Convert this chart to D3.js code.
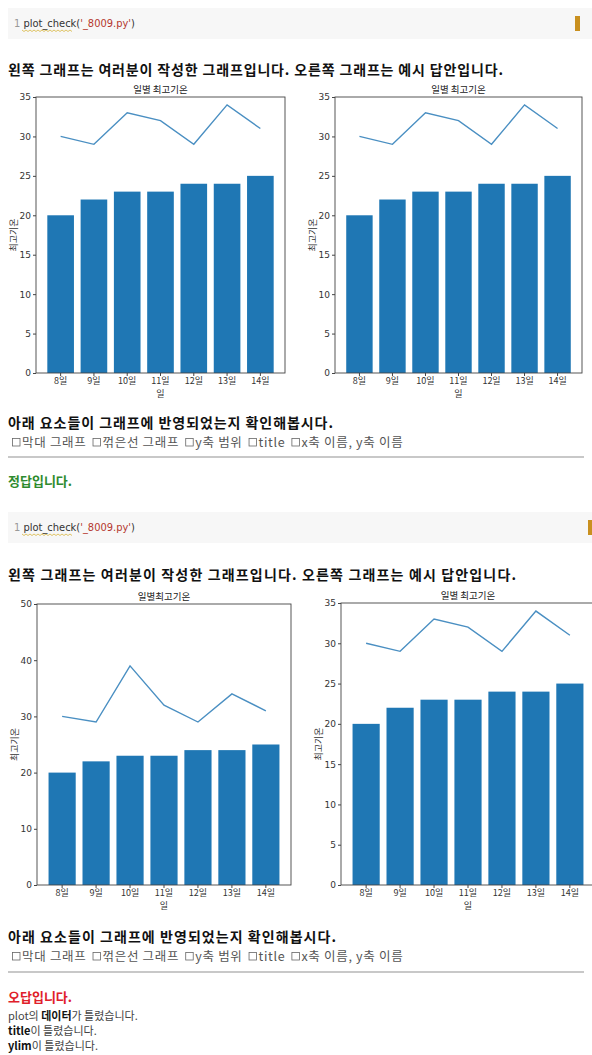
<!DOCTYPE html>
<html><head><meta charset="utf-8">
<script src="https://cdn.jsdelivr.net/npm/d3@7"></script>
<style>
html,body{margin:0;padding:0;background:#fff;}
svg{display:block;font-family:"Noto Sans CJK KR","Noto Sans",sans-serif;}
</style></head>
<body>
<svg id="root" width="592" height="1055"></svg>
<script>
// ---- data ----
const days = ["8일","9일","10일","11일","12일","13일","14일"];
const barTemps = [20,22,23,23,24,24,25];
const lineTempsAnswer = [30,29,33,32,29,34,31];
const lineTempsWrong = [30,29,39,32,29,34,31];
const yTicks35 = [0,5,10,15,20,25,30,35];
const yTicks50 = [0,10,20,30,40,50];
const checkItems = ["막대 그래프","꺾은선 그래프","y축 범위","title","x축 이름, y축 이름"];
const codeStr = "'_8009.py'";

const svg = d3.select("#root");
svg.append("rect").attr("width",592).attr("height",1055).attr("fill","#fff");

const BLUE = "#1f77b4";

function codeCell(y, barX){
  svg.append("rect").attr("x",8).attr("y",y).attr("width",584).attr("height",31).attr("fill","#f7f7f7");
  svg.append("rect").attr("x",barX).attr("y",y+8).attr("width",5).attr("height",15).attr("fill","#c9901f");
  const t = svg.append("text").attr("x",14).attr("y",y+19)
    .attr("font-family","'Liberation Sans Narrow','DejaVu Sans Condensed',sans-serif").attr("font-size",11);
  t.append("tspan").attr("fill","#999").text("1 ");
  t.append("tspan").attr("fill","#333").text("plot_check");
  t.append("tspan").attr("fill","#333").text("(");
  t.append("tspan").attr("fill","#b5382e").text(codeStr);
  t.append("tspan").attr("fill","#333").text(")");
  const x0 = 22, x1 = 72, yy = y+22;
  let d = `M${x0},${yy}`;
  for(let xx=x0, k=0; xx<x1; xx+=2, k++) d += ` L${xx+2},${yy + (k%2?0:1.5)}`;
  svg.append("path").attr("d",d).attr("fill","none").attr("stroke","#d8b640").attr("stroke-width",0.8);
}

function heading(y, txt, color, size, len){
  const t = svg.append("text").attr("x",8).attr("y",y).attr("font-size",size||14)
    .attr("font-weight","bold").attr("fill",color||"#111").text(txt);
  if(len) t.attr("textLength",len).attr("lengthAdjust","spacing");
}

function checkRow(y){
  let cx = 12;
  checkItems.forEach((s,i)=>{
    svg.append("rect").attr("x",cx+0.5).attr("y",y-8.5).attr("width",7.5).attr("height",7.5)
      .attr("fill","none").attr("stroke","#666").attr("stroke-width",0.8);
    const t = svg.append("text").attr("x",cx+10).attr("y",y).attr("font-size",12.5)
      .attr("letter-spacing",0.7).attr("fill","#555").text(s);
    const w = t.node().getBBox().width;
    cx = cx + 10 + w + 6;
  });
}

function hr(y){
  svg.append("line").attr("x1",8).attr("x2",584).attr("y1",y).attr("y2",y)
    .attr("stroke","#c8c8c8").attr("stroke-width",2);
}

function chart(o){
  const g = svg.append("g");
  const x = d3.scaleBand().domain(days).range([o.left,o.right]).paddingInner(0.2).paddingOuter(0.34);
  const y = d3.scaleLinear().domain([0,o.yMax]).range([o.bottom,o.top]);
  g.selectAll("rect.bar").data(barTemps).join("rect").attr("class","bar")
    .attr("x",(d,i)=>x(days[i])).attr("width",x.bandwidth())
    .attr("y",d=>y(d)).attr("height",d=>y(0)-y(d)).attr("fill",BLUE);
  const line = d3.line().x((d,i)=>x(days[i])+x.bandwidth()/2).y(d=>y(d));
  g.append("path").datum(o.lineData).attr("d",line).attr("fill","none")
    .attr("stroke","#4a8fc2").attr("stroke-width",1.4);
  g.append("rect").attr("x",o.left).attr("y",o.top).attr("width",o.right-o.left).attr("height",o.bottom-o.top)
    .attr("fill","none").attr("stroke","#444").attr("stroke-width",0.9);
  const ya = g.append("g").attr("transform",`translate(${o.left},0)`)
    .call(d3.axisLeft(y).tickValues(o.ticks).tickSize(3).tickPadding(2).tickFormat(d3.format("d")));
  ya.select(".domain").remove();
  ya.selectAll("line").attr("stroke","#444");
  ya.selectAll("text").attr("font-size",9).attr("fill","#333").attr("font-family","'DejaVu Sans',sans-serif");
  const xa = g.append("g").attr("transform",`translate(0,${o.bottom})`)
    .call(d3.axisBottom(x).tickSize(3).tickPadding(2));
  xa.select(".domain").remove();
  xa.selectAll("line").attr("stroke","#444");
  xa.selectAll("text").attr("font-size",9).attr("fill","#333").attr("font-family","'Noto Sans CJK KR',sans-serif");
  g.append("text").attr("x",(o.left+o.right)/2).attr("y",o.top-4).attr("text-anchor","middle")
    .attr("font-size",9.5).attr("fill","#222").text(o.title);
  g.append("text").attr("x",(o.left+o.right)/2).attr("y",o.bottom+24).attr("text-anchor","middle")
    .attr("font-size",9).attr("fill","#333").text("일");
  g.append("text").attr("transform",`translate(${o.left-19},${(o.top+o.bottom)/2}) rotate(-90)`)
    .attr("text-anchor","middle").attr("font-size",9).attr("fill","#333").text("최고기온");
}

const HEAD1 = "왼쪽 그래프는 여러분이 작성한 그래프입니다. 오른쪽 그래프는 예시 답안입니다.";
const HEAD2 = "아래 요소들이 그래프에 반영되었는지 확인해봅시다.";

// ---- block 1 ----
codeCell(8, 575);
heading(75, HEAD1, "#111", 14, 495);
chart({left:36,right:285,top:97,bottom:373,yMax:35,ticks:yTicks35,lineData:lineTempsAnswer,title:"일별 최고기온"});
chart({left:335,right:582,top:97,bottom:373,yMax:35,ticks:yTicks35,lineData:lineTempsAnswer,title:"일별 최고기온"});
heading(428, HEAD2, "#111", 14, 325);
checkRow(447);
hr(457);
heading(486, "정답입니다.", "#2e8b2e", 13);

// ---- block 2 ----
codeCell(512, 588);
heading(580, HEAD1, "#111", 14, 508);
chart({left:37,right:291,top:604,bottom:885,yMax:50,ticks:yTicks50,lineData:lineTempsWrong,title:"일별최고기온"});
chart({left:341,right:595,top:603,bottom:885,yMax:35,ticks:yTicks35,lineData:lineTempsAnswer,title:"일별 최고기온"});
heading(942, HEAD2, "#111", 14, 328);
checkRow(961);
hr(972);
heading(1002, "오답입니다.", "#e0202a", 13);

const fb = [["plot의 ","데이터","가 틀렸습니다."],["","title","이 틀렸습니다."],["","ylim","이 틀렸습니다."]];
fb.forEach((r,i)=>{
  const t = svg.append("text").attr("x",8).attr("y",1020+i*15).attr("font-size",11).attr("fill","#444");
  t.append("tspan").text(r[0]);
  t.append("tspan").attr("font-weight","bold").attr("fill","#111").text(r[1]);
  t.append("tspan").text(r[2]);
});
</script>
</body></html>
